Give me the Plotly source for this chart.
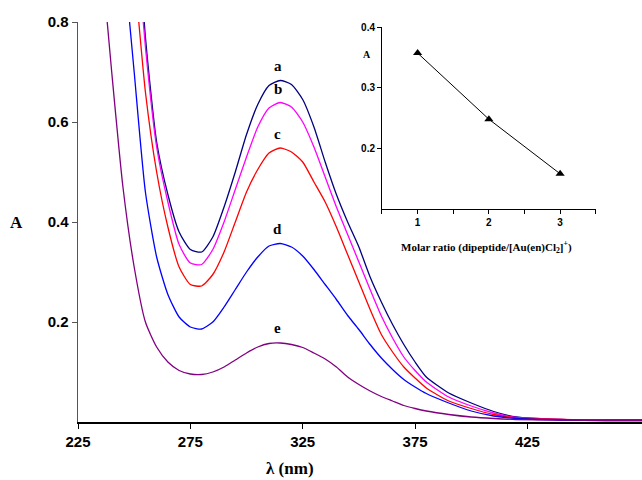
import plotly.graph_objects as go

wavelength = [235, 240, 245, 250, 255, 260, 265, 270, 275, 280, 285, 290, 295, 300, 305, 310, 315,
              320, 325, 330, 335, 340, 345, 350, 355, 360, 365, 370, 375, 380, 390, 400, 410, 420,
              440, 460, 476]

abs_a = [2.3, 1.9, 1.45, 1.1, 0.77, 0.56, 0.455, 0.38, 0.345, 0.34, 0.37, 0.43, 0.50, 0.575, 0.635,
         0.673, 0.683, 0.675, 0.645, 0.59, 0.52, 0.455, 0.40, 0.35, 0.29, 0.24, 0.195, 0.155, 0.12,
         0.09, 0.058, 0.038, 0.021, 0.010, 0.005, 0.004, 0.004]
abs_b = [2.0, 1.65, 1.3, 1.02, 0.75, 0.55, 0.44, 0.355, 0.318, 0.315, 0.345, 0.40, 0.465, 0.53,
         0.59, 0.628, 0.639, 0.63, 0.60, 0.55, 0.49, 0.43, 0.375, 0.32, 0.265, 0.212, 0.168, 0.13,
         0.103, 0.08, 0.05, 0.032, 0.018, 0.009, 0.005, 0.004, 0.004]
abs_c = [1.7, 1.4, 1.1, 0.90, 0.66, 0.50, 0.39, 0.31, 0.275, 0.272, 0.295, 0.34, 0.40, 0.46, 0.505,
         0.538, 0.548, 0.54, 0.52, 0.48, 0.44, 0.39, 0.335, 0.28, 0.225, 0.175, 0.14, 0.11, 0.088,
         0.068, 0.042, 0.027, 0.015, 0.008, 0.005, 0.004, 0.004]
abs_d = [1.6, 1.3, 0.95, 0.70, 0.46, 0.33, 0.255, 0.21, 0.19, 0.186, 0.20, 0.23, 0.265, 0.30, 0.33,
         0.352, 0.357, 0.35, 0.332, 0.305, 0.275, 0.245, 0.213, 0.185, 0.155, 0.128, 0.105, 0.085,
         0.07, 0.057, 0.038, 0.022, 0.012, 0.007, 0.004, 0.003, 0.003]
abs_e = [0.95, 0.70, 0.47, 0.31, 0.20, 0.15, 0.12, 0.103, 0.096, 0.095, 0.10, 0.11, 0.124, 0.138,
         0.15, 0.157, 0.158, 0.155, 0.149, 0.138, 0.126, 0.11, 0.09, 0.075, 0.062, 0.051, 0.042,
         0.033, 0.027, 0.022, 0.015, 0.010, 0.007, 0.005, 0.004, 0.003, 0.003]

series_names = ["a", "b", "c", "d", "e"]
series_values = [abs_a, abs_b, abs_c, abs_d, abs_e]
series_colors = ["#000080", "#FF00FF", "#FF0000", "#0000FF", "#800080"]
label_y = [0.692, 0.647, 0.557, 0.366, 0.168]
peak_wl = 314

inset_ratio = [1, 2, 3]
inset_abs = [0.357, 0.248, 0.158]

x_ticks = [225, 275, 325, 375, 425]
y_ticks = [0.2, 0.4, 0.6, 0.8]

bold_sans = dict(family="Liberation Sans", size=15, color="black", weight="bold")
bold_sans_small = dict(family="Liberation Sans", size=10, color="black", weight="bold")

fig = go.Figure()
for name, vals, col in zip(series_names, series_values, series_colors):
    fig.add_trace(go.Scatter(x=wavelength, y=vals, mode="lines", name=name,
                             line=dict(color=col, width=1.3, shape="spline", smoothing=0.6),
                             showlegend=False, hoverinfo="skip"))

for name, ly in zip(series_names, label_y):
    fig.add_annotation(x=peak_wl, y=ly, text="<b>%s</b>" % name, showarrow=False,
                       yanchor="bottom", xanchor="center",
                       font=dict(family="Liberation Serif", size=15, color="black"))

fig.add_trace(go.Scatter(x=inset_ratio, y=inset_abs, mode="lines+markers",
                         line=dict(color="black", width=1),
                         marker=dict(symbol="triangle-up", size=8, color="black"),
                         xaxis="x2", yaxis="y2", showlegend=False, hoverinfo="skip"))

fig.update_layout(
    width=642, height=480,
    margin=dict(l=78, r=0, t=22, b=58),
    paper_bgcolor="white", plot_bgcolor="white",
    xaxis=dict(range=[225, 476], tickvals=x_ticks, ticks="outside", ticklen=5,
               tickcolor="black", showline=True, linecolor="black", linewidth=1.5,
               showgrid=False, zeroline=False, tickfont=bold_sans),
    yaxis=dict(range=[0, 0.8], tickvals=y_ticks, ticks="outside", ticklen=5,
               tickcolor="#555", showline=True, linecolor="#555", linewidth=1.5,
               showgrid=False, zeroline=False, tickformat=".1f", tickfont=bold_sans),
    xaxis2=dict(domain=[0.539, 0.918], anchor="y2", range=[0.5, 3.5],
                tickvals=[0.5, 1, 1.5, 2, 2.5, 3, 3.5],
                ticktext=["", "1", "", "2", "", "3", ""],
                ticks="outside", ticklen=4, tickcolor="black", showline=True,
                linecolor="black", linewidth=1, showgrid=False, zeroline=False,
                tickfont=bold_sans_small),
    yaxis2=dict(domain=[0.5325, 0.9875], anchor="x2", range=[0.1, 0.4],
                tickvals=[0.2, 0.3, 0.4], ticktext=["0.2", "0.3", "0.4"],
                ticks="outside", ticklen=4, tickcolor="black", showline=True,
                linecolor="black", linewidth=1, showgrid=False, zeroline=False,
                tickfont=bold_sans_small),
)

fig.add_annotation(xref="paper", yref="paper", x=-0.109, y=0.5, text="<b>A</b>",
                   showarrow=False, xanchor="center", yanchor="middle",
                   font=dict(family="Liberation Serif", size=17, color="black"))
fig.add_annotation(xref="paper", yref="paper", x=0.376, y=-0.115, text="<b>λ (nm)</b>",
                   showarrow=False, xanchor="center", yanchor="middle",
                   font=dict(family="Liberation Serif", size=17, color="black"))
fig.add_annotation(xref="x2 domain", yref="y2", x=-0.07, y=0.354, text="<b>A</b>",
                   showarrow=False, xanchor="center", yanchor="middle",
                   font=dict(family="Liberation Serif", size=10, color="black"))
fig.add_annotation(xref="x2 domain", yref="paper", x=0.49, y=0.4375,
                   text="<b>Molar ratio (dipeptide/[Au(en)Cl<sub>2</sub>]<sup>+</sup>)</b>",
                   showarrow=False, xanchor="center", yanchor="middle",
                   font=dict(family="Liberation Serif", size=11, color="black"))

fig.write_html("out.html", config={"displayModeBar": False, "staticPlot": True},
               post_script="document.body.style.margin='0';document.body.style.overflow='hidden';")
